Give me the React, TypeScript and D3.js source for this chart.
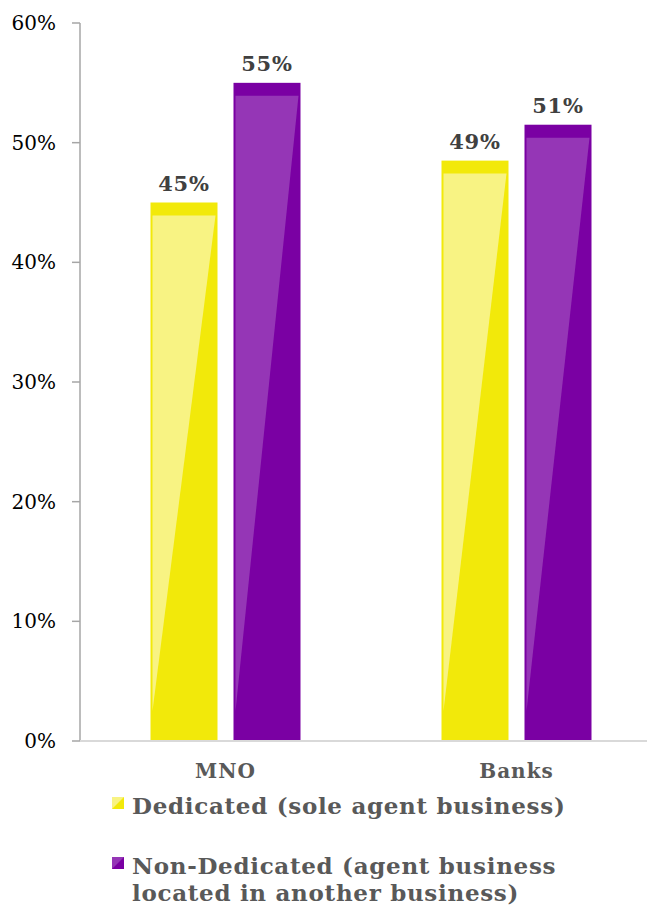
import React from "react";
import * as d3 from "d3";

const categories = ["MNO", "Banks"];
const seriesNames = ["Dedicated (sole agent business)", "Non-Dedicated (agent business located in another business)"];
const dedicated = [0.45, 0.485];
const nonDedicated = [0.55, 0.515];
const dataLabels = [["45%", "55%"], ["49%", "51%"]];
const yTicks = [0, 0.1, 0.2, 0.3, 0.4, 0.5, 0.6];
const legendLines = [["Dedicated (sole agent business)"], ["Non-Dedicated (agent business", "located in another business)"]];

const W = 647;
const H = 905;
const dark = ["#f2e90a", "#7a00a3"];
const light = ["#f8f383", "#9536b6"];

export default function App() {
  const y = d3.scaleLinear().domain([0, 0.6]).range([741, 23]);
  const x = d3.scalePoint<string>().domain(categories).range([80, 662]).padding(0.5);
  const inner = d3.scaleBand<number>().domain([0, 1]).range([-75, 75]).paddingInner(0.1928);
  const fmt = d3.format(".0%");
  const series = [dedicated, nonDedicated];
  const base = y(0);

  return (
    <svg width={W} height={H} style={{ position: "absolute", left: 0, top: 0, background: "#fff" }}>
      {/* y axis */}
      <line x1={80} x2={80} y1={y(0.6)} y2={base} stroke="#a6a6a6" strokeWidth={1.5} />
      {yTicks.map((t) => (
        <g key={t}>
          <line x1={72} x2={80} y1={y(t)} y2={y(t)} stroke="#a6a6a6" strokeWidth={1.5} />
          <text x={56} y={y(t)} dy="0.35em" textAnchor="end" fontFamily="DejaVu Serif" fontSize={20} fill="#000">
            {fmt(t)}
          </text>
        </g>
      ))}
      {/* bars */}
      {categories.map((c, ci) =>
        series.map((s, si) => {
          const x0 = (x(c) as number) + (inner(si) as number);
          const bw = inner.bandwidth();
          const top = y(s[ci]);
          const poly = [
            [x0 + 2, top + 13],
            [x0 + bw - 2, top + 13],
            [x0 + 2, base - 30],
          ];
          return (
            <g key={c + si}>
              <rect x={x0} y={top} width={bw} height={base - top} fill={dark[si]} />
              <polygon points={poly.map((p) => p.join(",")).join(" ")} fill={light[si]} />
              <text
                x={x0 + bw / 2}
                y={top - 12}
                textAnchor="middle"
                fontFamily="DejaVu Serif"
                fontWeight="bold"
                fontSize={21}
                letterSpacing={0.8}
                fill="#404040"
              >
                {dataLabels[ci][si]}
              </text>
            </g>
          );
        })
      )}
      {/* baseline */}
      <line x1={80} x2={W} y1={base} y2={base} stroke="#d9d9d9" strokeWidth={2} />
      {/* category labels */}
      {categories.map((c) => (
        <text
          key={c}
          x={x(c) as number}
          y={778}
          textAnchor="middle"
          fontFamily="DejaVu Serif"
          fontWeight="bold"
          fontSize={20}
          letterSpacing={1}
          fill="#595959"
        >
          {c}
        </text>
      ))}
      {/* legend */}
      {seriesNames.map((n, i) => {
        const ly = 797 + i * 60;
        return (
          <g key={n}>
            <rect x={112} y={ly} width={12} height={12} fill={dark[i]} />
            <polygon points={`${112},${ly} ${124},${ly} ${112},${ly + 12}`} fill={light[i]} />
            {legendLines[i].map((t, k) => (
              <text
                key={k}
                x={132}
                y={ly + 17 + k * 27}
                fontFamily="DejaVu Serif"
                fontWeight="bold"
                fontSize={23}
                letterSpacing={0.7}
                fill="#595959"
              >
                {t}
              </text>
            ))}
          </g>
        );
      })}
    </svg>
  );
}
